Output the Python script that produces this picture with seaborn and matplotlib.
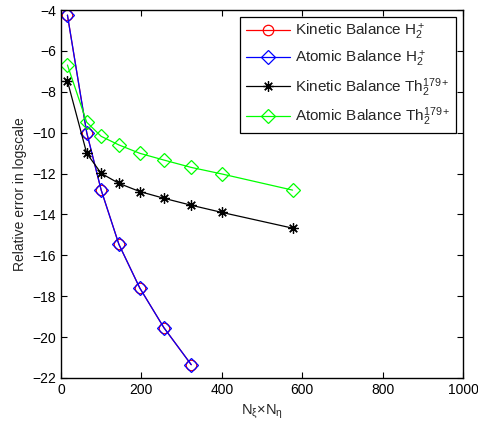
"""
Relative error vs grid size for kinetic / atomic balance, H2+ and Th2 179+.
"""

import matplotlib
matplotlib.use("Agg")
import matplotlib.pyplot as plt
import pandas as pd
import seaborn as sns

# grid sizes N_xi x N_eta
n_h2 = [16, 64, 100, 144, 196, 256, 324]
n_th = [16, 64, 100, 144, 196, 256, 324, 400, 576]

# log relative errors
kin_h2 = [-4.25, -10.0, -12.81, -15.46, -17.6, -19.54, -21.35]
atom_h2 = [-4.25, -10.0, -12.81, -15.46, -17.6, -19.54, -21.35]
kin_th = [-7.47, -11.01, -11.99, -12.48, -12.88, -13.21, -13.55, -13.9, -14.67]
atom_th = [-6.69, -9.49, -10.18, -10.6, -11.01, -11.34, -11.7, -12.02, -12.81]

labels = [r"Kinetic Balance $\mathregular{H_2^+}$",
          r"Atomic Balance $\mathregular{H_2^+}$",
          r"Kinetic Balance $\mathregular{Th_2^{179+}}$",
          r"Atomic Balance $\mathregular{Th_2^{179+}}$"]

df = pd.concat([
    pd.DataFrame({"n": n_h2, "err": kin_h2, "series": labels[0]}),
    pd.DataFrame({"n": n_h2, "err": atom_h2, "series": labels[1]}),
    pd.DataFrame({"n": n_th, "err": kin_th, "series": labels[2]}),
    pd.DataFrame({"n": n_th, "err": atom_th, "series": labels[3]}),
])

sns.set_style("ticks")
plt.rcParams["font.family"] = ["Liberation Sans", "DejaVu Sans"]
plt.rcParams["mathtext.fontset"] = "custom"
plt.rcParams["mathtext.rm"] = "Liberation Sans"
plt.rcParams["mathtext.it"] = "Liberation Sans:italic"
plt.rcParams["font.size"] = 10

fig = plt.figure(figsize=(4.78, 4.22), dpi=100)
ax = fig.add_axes([0.1276, 0.1043, 0.8410, 0.8720])

styles = [("red", "o"), ("blue", "D"), ("black", (8, 2, 0)), ("#00ff00", "D")]
for lab, (col, mk) in zip(labels, styles):
    sub = df[df["series"] == lab]
    sns.lineplot(data=sub, x="n", y="err", ax=ax, color=col, marker=mk,
                 markersize=7.5 if mk != "D" else 7, mfc="none", mec=col,
                 mew=0.9, lw=0.9, label=lab)

ax.set_xlim(0, 1000)
ax.set_ylim(-22, -4)
ax.set_xticks(range(0, 1001, 200))
ax.set_yticks(range(-22, -3, 2))
ax.tick_params(direction="in", top=True, right=True, length=4, width=0.8,
               labelsize=10, colors="black")
for s in ax.spines.values():
    s.set_linewidth(1.0)
    s.set_color("black")
ax.set_xlabel(r"$\mathregular{N_\xi}$×$\mathregular{N_\eta}$", fontsize=10.5)
ax.set_ylabel("Relative error in logscale", fontsize=10)

leg = ax.legend(loc="upper right", fontsize=11, fancybox=False, framealpha=1,
                edgecolor="black", handlelength=2.9, labelspacing=0.45,
                handletextpad=0.35, borderaxespad=0.45, borderpad=0.35)
leg.get_frame().set_linewidth(0.9)

plt.savefig("out.png", dpi=100)
